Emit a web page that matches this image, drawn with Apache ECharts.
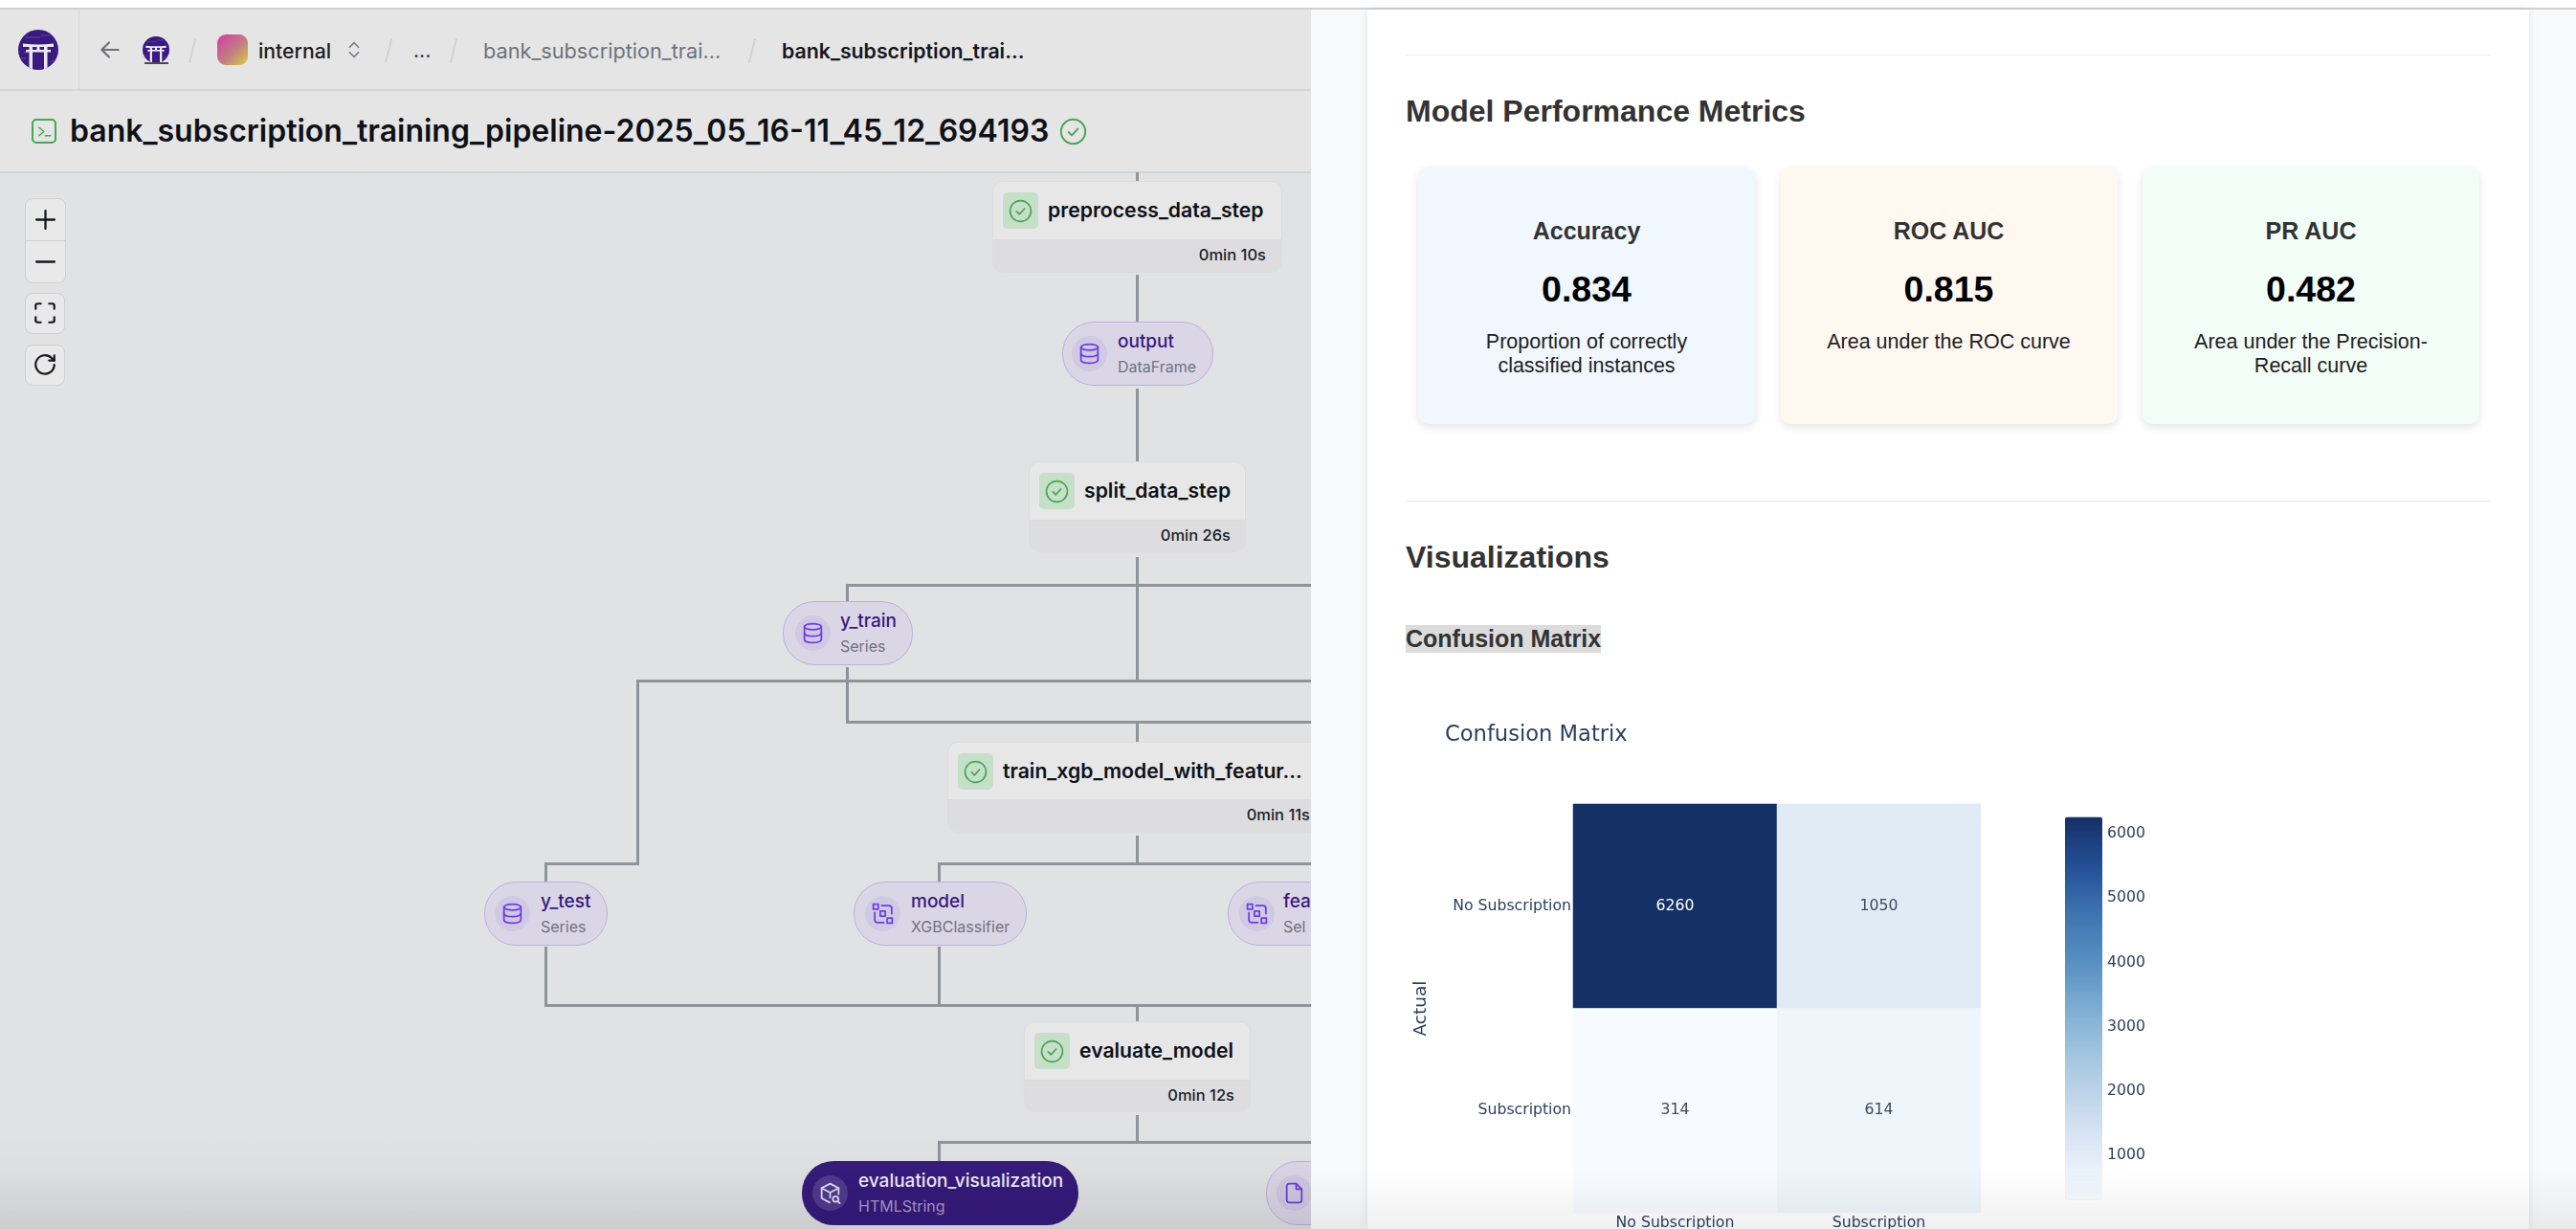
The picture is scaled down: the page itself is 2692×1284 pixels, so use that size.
<!DOCTYPE html>
<html>
<head>
<meta charset="utf-8">
<title>Confusion Matrix</title>
<script src="https://cdn.jsdelivr.net/npm/echarts@6/dist/echarts.min.js"></script>
<style>
    html, body { margin: 0; padding: 0; width: 2692px; height: 1284px; overflow: hidden; background: #fff; }
    #page { position: absolute; left: 0; top: 0; width: 2692px; height: 1284px; overflow: hidden; font-family: Inter, sans-serif; }
    #dag { position: absolute; left: 0; top: 0; width: 1370px; height: 1284px; overflow: hidden; background: #e1e2e4; }
    #side { position: absolute; left: 1370px; top: 0; width: 1322px; height: 1284px; overflow: hidden; background: #f8f9fa; font-family: "Liberation Sans", Arial, sans-serif; }
    #chart { position: absolute; left: 1429px; top: 730px; width: 1214px; height: 554px; }
    #fade { position: absolute; left: 0; top: 1222px; width: 2692px; height: 62px; pointer-events: none; background: linear-gradient(rgba(0,0,0,0), rgba(0,0,0,0.06)); }
    #fade-left { position: absolute; left: 0; top: 1170px; width: 1370px; height: 114px; pointer-events: none; background: linear-gradient(rgba(0,0,0,0), rgba(0,0,0,0.035)); }
    .box, .txt { position: absolute; box-sizing: border-box; }
    .txt { white-space: nowrap; height: 60px; line-height: 60px; }
    svg { position: absolute; overflow: visible; }
</style>
</head>
<body>
<div id="page">
    <div id="dag"></div>
    <div id="side"></div>
    <div id="chart"></div>
    <div id="fade-left"></div>
    <div id="fade"></div>
</div>
<script>
var actualLabels = ['No Subscription', 'Subscription'];
var predictedLabels = ['No Subscription', 'Subscription'];
var noSubscriptionRow = [6260, 1050];
var subscriptionRow = [314, 614];
var colorbarTicks = [1000, 2000, 3000, 4000, 5000, 6000];
var colorbarColors = ['#f7fbff', '#e1ebf6', '#c5d7eb', '#a3c6de', '#7dadd3', '#568fc0', '#3d74b0', '#234f96', '#153065'];
var metricTitles = ['Accuracy', 'ROC AUC', 'PR AUC'];
var metricValues = ['0.834', '0.815', '0.482'];
var metricNotes = [['Proportion of correctly', 'classified instances'], ['Area under the ROC curve'], ['Area under the Precision-', 'Recall curve']];

var INK = '#2a3f5f';
var PLOT_FONT = '"DejaVu Sans", sans-serif';

/**
 * Add a positioned box.
 * @returns {Element}
 */
function box(parent, x, y, w, h, css) {
    var el = document.createElement('div');
    el.className = 'box';
    el.style.cssText = 'left:' + x + 'px;top:' + y + 'px;width:' + w + 'px;height:' + h + 'px;' + (css || '');
    parent.appendChild(el);
    return el;
}

/**
 * Add one line of text centred on cy.
 * @returns {Element}
 */
function txt(parent, x, cy, text, css, align) {
    var el = document.createElement('div');
    el.className = 'txt';
    var shift = align === 'right' ? 'translateX(-100%)' : align === 'center' ? 'translateX(-50%)' : 'none';
    el.style.cssText = 'left:' + x + 'px;top:' + (cy - 30) + 'px;transform:' + shift + ';' + (css || '');
    el.textContent = text;
    parent.appendChild(el);
    return el;
}

/**
 * Add an icon from path markup, on a 24 unit box.
 * @returns {void}
 */
function icon(parent, cx, cy, size, color, width, body) {
    var holder = document.createElement('div');
    holder.innerHTML = '<svg viewBox="0 0 24 24" width="' + size + '" height="' + size + '" fill="none" stroke="' + color +
        '" stroke-width="' + width + '" stroke-linecap="round" stroke-linejoin="round" style="left:' + (cx - size / 2) +
        'px;top:' + (cy - size / 2) + 'px">' + body + '</svg>';
    parent.appendChild(holder.firstChild);
}

/**
 * Add the round torii logo, drawn on a 42 unit box.
 * @returns {void}
 */
function logo(parent, id, x, y, d) {
    var holder = document.createElement('div');
    holder.innerHTML = '<svg viewBox="0 0 42 42" width="' + d + '" height="' + d + '" style="left:' + x + 'px;top:' + y + 'px">' +
        '<clipPath id="' + id + '"><circle cx="21" cy="21" r="21"/></clipPath>' +
        '<g clip-path="url(#' + id + ')"><rect width="42" height="42" fill="#3a1a80"/>' +
        '<path d="M7 8h16M24 6h9M3 30h5M34 33h5M6 24h4" stroke="#6a55a0" stroke-width="0.8"/>' +
        '<path d="M5 14.5q16 2 32 0v3.5H5z" fill="#ebe9f0"/><rect x="8" y="21" width="26" height="2.5" fill="#ebe9f0"/>' +
        '<rect x="19.5" y="18" width="3" height="3" fill="#ebe9f0"/>' +
        '<rect x="11.5" y="18" width="3.5" height="24" fill="#ebe9f0"/><rect x="27" y="18" width="3.5" height="24" fill="#ebe9f0"/></g></svg>';
    parent.appendChild(holder.firstChild);
}

var CHECK = '<circle cx="12" cy="12" r="10.5"/><path d="M8 12.4l2.8 2.8L16 9.6"/>';
var DB = '<ellipse cx="12" cy="5.5" rx="8.5" ry="3"/><path d="M3.5 5.5v13c0 1.7 3.8 3 8.5 3s8.5-1.3 8.5-3v-13"/><path d="M3.5 12c0 1.7 3.8 3 8.5 3s8.5-1.3 8.5-3"/>';
var MODEL = '<rect x="2.5" y="2.5" width="5" height="5"/><rect x="9.5" y="9.5" width="5" height="5"/><rect x="16.5" y="16.5" width="5" height="5"/><path d="M11 4h7a3 3 0 0 1 3 3v5"/><path d="M4 11v7a3 3 0 0 0 3 3h6"/>';
var CUBE = '<path d="M12 2.5l8.5 4.5v6M12 2.5L3.5 7v10l8 4.5"/><path d="M3.5 7l8.5 4.5 8.5-4.5M12 11.5v5"/><circle cx="17.5" cy="18" r="2.8"/><path d="M19.6 20.1l2 2"/>';
var FILE = '<path d="M14 2.5H7a2.5 2.5 0 0 0-2.5 2.5v14A2.5 2.5 0 0 0 7 21.5h10a2.5 2.5 0 0 0 2.5-2.5V8z"/><path d="M14 2.5V8h5.5"/>';

/**
 * Draw a pipeline step card.
 * @returns {void}
 */
function stepCard(root, x, y, w, h, split, name, time, nameRight) {
    var card = box(root, x, y, w, h, 'background:#e7e7e8;border:1px solid #dbdcde;border-radius:11px;overflow:hidden;');
    box(card, 0, split - y, w, h - (split - y), 'background:#dddde0;border-top:1px solid #d9dadc;');
    box(root, x + 11, y + 12, 37, 38, 'background:#c6dfc9;border-radius:5px;');
    icon(root, x + 29.5, y + 31, 25, '#45a84f', 1.6, CHECK);
    txt(root, x + 58, y + 30, name, 'font-size:21.2px;font-weight:600;color:#0f1117;');
    txt(root, nameRight, split + (h - (split - y)) / 2 - 1, time, 'font-size:16.5px;font-weight:500;color:#1b1d24;', 'right');
}

/**
 * Draw an artifact pill.
 * @returns {void}
 */
function artifact(root, x, y, w, iconCx, textX, name, kind, glyph, dark) {
    box(root, x, y, w, 67, dark ? 'background:#361b7c;border-radius:33px;' : 'background:#dbd6e6;border:1px solid #bbb0e0;border-radius:33px;');
    box(root, iconCx - 18, y + 15, 37, 37, 'border-radius:50%;background:' + (dark ? '#523a8f' : '#d0c9e3') + ';');
    icon(root, iconCx + 0.5, y + 33.5, 25, dark ? '#e4e0f0' : '#6b3fe0', 1.7, glyph);
    if (name) txt(root, textX, y + 21, name, 'font-size:19px;font-weight:500;color:' + (dark ? '#efecf6' : '#38197f') + ';');
    if (kind) txt(root, textX, y + 47, kind, 'font-size:16px;color:' + (dark ? '#a79ac9' : '#6f7280') + ';');
}

/**
 * Draw the pipeline view on the left.
 * @returns {void}
 */
function buildDag() {
    var root = document.getElementById('dag');
    box(root, 0, 0, 1370, 180, 'background:#e5e5e6;');
    box(root, 0, 0, 1370, 9, 'background:#fff;');
    box(root, 0, 8, 1370, 2, 'background:#cfd0d1;');
    box(root, 0, 93, 1370, 2, 'background:#d5d6d8;');
    box(root, 0, 179, 1370, 2, 'background:#d2d3d5;');
    box(root, 82, 10, 1, 84, 'background:#d5d6d8;');

    logo(root, 'logo-big', 19, 31, 42);
    icon(root, 115, 52, 26, '#6b7079', 2, '<path d="M20 12H4M11 5l-7 7 7 7"/>');
    logo(root, 'logo-small', 149, 38, 28);
    box(root, 151, 65, 25, 2, 'background:#4a4a52;');
    box(root, 227, 36, 32, 32, 'border-radius:9px;background:linear-gradient(135deg,#d63aa8,#c08080 55%,#d8d040);');
    txt(root, 270, 53, 'internal', 'font-size:21.2px;font-weight:500;color:#1a1c22;');
    icon(root, 370, 52, 22, '#7b8089', 1.8, '<path d="M7 9l5-5 5 5M7 15l5 5 5-5"/>');
    txt(root, 432, 53, '...', 'font-size:20px;font-weight:500;color:#30323a;');
    txt(root, 505, 53, 'bank_subscription_trai...', 'font-size:21.7px;color:#6d727b;');
    txt(root, 817, 53, 'bank_subscription_trai...', 'font-size:21.3px;font-weight:600;color:#15171d;');
    [200, 405, 473, 785].forEach(function (sx) {
        box(root, sx, 40, 2, 26, 'background:#cfd1d4;transform:rotate(14deg);');
    });

    box(root, 33, 124, 26, 26, 'border:2px solid #45a84f;border-radius:5px;');
    icon(root, 46, 137, 17, '#45a84f', 2.2, '<path d="M4 6l7 6-7 6M13 18h8"/>');
    txt(root, 73, 137, 'bank_subscription_training_pipeline-2025_05_16-11_45_12_694193', 'font-size:32px;font-weight:600;color:#0f1117;');
    icon(root, 1121, 137, 29, '#45a84f', 1.6, CHECK);

    var tool = 'background:#e9e9ea;border:1px solid #cfd0d3;border-radius:8px;';
    box(root, 26, 207, 43, 89, tool);
    box(root, 27, 251, 41, 1, 'background:#cfd0d3;');
    box(root, 26, 306, 42, 43, tool);
    box(root, 26, 360, 42, 43, tool);
    icon(root, 47, 229, 25, '#15171d', 2.2, '<path d="M12 3v18M3 12h18"/>');
    icon(root, 47, 273, 25, '#15171d', 2.2, '<path d="M3 12h18"/>');
    icon(root, 46.5, 327, 26, '#15171d', 2, '<path d="M3 8V5a2 2 0 0 1 2-2h3M16 3h3a2 2 0 0 1 2 2v3M21 16v3a2 2 0 0 1-2 2h-3M8 21H5a2 2 0 0 1-2-2v-3"/>');
    icon(root, 46.5, 381, 26, '#15171d', 2, '<path d="M21 12a9 9 0 1 1-2.6-6.4L21 8"/><path d="M21 3v5h-5"/>');

    // pipeline connectors, as x1 y1 x2 y2
    [
        [1188, 181, 1188, 189], [1188, 288, 1188, 336], [1188, 407, 1188, 482], [1188, 583, 1188, 711],
        [885, 611, 1370, 611], [885, 611, 885, 628], [666, 711, 1370, 711], [666, 711, 666, 902], [570, 902, 666, 902], [570, 902, 570, 921],
        [885, 698, 885, 754], [885, 754, 1370, 754], [1188, 754, 1188, 775], [1188, 874, 1188, 902],
        [981, 902, 1370, 902], [981, 902, 981, 921], [570, 990, 570, 1050], [981, 990, 981, 1050],
        [570, 1050, 1370, 1050], [1188, 1050, 1188, 1067], [1188, 1166, 1188, 1193], [981, 1193, 1370, 1193], [981, 1193, 981, 1213]
    ].forEach(function (s) {
        var w = Math.max(s[2] - s[0], 0), h = Math.max(s[3] - s[1], 0);
        box(root, s[0] - 1.5, s[1] - 1.5, w + 3, h + 3, 'background:#8f949b;');
    });

    stepCard(root, 1037, 189, 303, 96, 249, 'preprocess_data_step', '0min 10s', 1323);
    stepCard(root, 1075, 482, 227, 95, 542, 'split_data_step', '0min 26s', 1286);
    stepCard(root, 990, 775, 396, 95, 834, 'train_xgb_model_with_featur...', '0min 11s', 1369);
    stepCard(root, 1070, 1067, 237, 95, 1127, 'evaluate_model', '0min 12s', 1290);

    artifact(root, 1110, 336, 158, 1138, 1168, 'output', 'DataFrame', DB);
    artifact(root, 818, 628, 136, 849, 878, 'y_train', 'Series', DB);
    artifact(root, 506, 921, 129, 535, 565, 'y_test', 'Series', DB);
    artifact(root, 892, 921, 181, 922, 952, 'model', 'XGBClassifier', MODEL);
    artifact(root, 1283, 921, 220, 1313, 1341, 'fea', 'Sel', MODEL);
    artifact(root, 838, 1213, 289, 867, 897, 'evaluation_visualization', 'HTMLString', CUBE, true);
    artifact(root, 1323, 1213, 200, 1352, 1382, '', '', FILE);
}

/**
 * Draw the report panel on the right.
 * @returns {void}
 */
function buildReport() {
    var root = document.getElementById('side');
    box(root, 0, 0, 1322, 9, 'background:#fff;');
    box(root, 0, 8, 1322, 2, 'background:#cfd0d1;');
    box(root, 59, 10, 1214, 1274, 'background:#fff;box-shadow:0 0 9px rgba(0,0,0,0.09);');
    box(root, 99, 57, 1134, 1, 'background:#eeeeef;');
    box(root, 99, 523, 1134, 1, 'background:#e9eaeb;');
    txt(root, 99, 116, 'Model Performance Metrics', 'font-size:32px;font-weight:700;color:#333;');
    txt(root, 99, 582, 'Visualizations', 'font-size:32px;font-weight:700;color:#333;');
    box(root, 99, 653, 204, 29, 'background:#dcdcdc;');
    txt(root, 99, 667, 'Confusion Matrix', 'font-size:25px;font-weight:700;color:#333;');

    var backs = ['#f0f7ff', '#fff8f1', '#f3fdf8'];
    metricTitles.forEach(function (title, i) {
        var x = 112 + i * 378.5;
        box(root, x, 175, 352, 268, 'background:' + backs[i] + ';border-radius:10px;box-shadow:0 3px 10px rgba(0,0,0,0.11);');
        txt(root, x + 176, 241, title, 'font-size:25px;font-weight:700;color:#333;', 'center');
        txt(root, x + 176, 302, metricValues[i], 'font-size:37.5px;font-weight:700;color:#000;', 'center');
        metricNotes[i].forEach(function (line, j) {
            txt(root, x + 176, 357 + j * 25, line, 'font-size:21.5px;color:#222;', 'center');
        });
    });
}

/**
 * Draw the confusion matrix.
 * @returns {void}
 */
function buildChart() {
    var cells = [];
    [noSubscriptionRow, subscriptionRow].forEach(function (row, r) {
        row.forEach(function (v, c) { cells.push([c, r, v]); });
    });
    var values = noSubscriptionRow.concat(subscriptionRow);
    var lo = Math.min.apply(null, values);
    var hi = Math.max.apply(null, values);

    var chart = echarts.init(document.getElementById('chart'));
    chart.setOption({
        animation: false,
        title: {
            text: 'Confusion Matrix',
            left: 76,
            top: 22,
            textStyle: { color: INK, fontFamily: PLOT_FONT, fontWeight: 'normal', fontSize: 22.6 }
        },
        grid: [
            { left: 215, top: 110, width: 426, height: 427, outerBoundsMode: 'none' },
            { left: 729, top: 123.5, width: 39, height: 400, outerBoundsMode: 'none' }
        ],
        xAxis: [
            {
                type: 'category',
                data: predictedLabels,
                axisLine: { show: false },
                axisTick: { show: false },
                axisLabel: { color: INK, fontFamily: PLOT_FONT, fontSize: 15.7, margin: 3 }
            },
            { gridIndex: 1, type: 'value', show: false }
        ],
        yAxis: [
            {
                type: 'category',
                data: actualLabels,
                inverse: true,
                name: 'Actual',
                nameLocation: 'middle',
                nameGap: 149,
                nameTextStyle: { color: INK, fontFamily: PLOT_FONT, fontSize: 18.5 },
                axisLine: { show: false },
                axisTick: { show: false },
                axisLabel: { color: INK, fontFamily: PLOT_FONT, fontSize: 15.7, margin: 2 }
            },
            {
                gridIndex: 1,
                type: 'value',
                position: 'right',
                min: lo,
                max: hi,
                splitLine: { show: false },
                axisLine: { show: false },
                axisTick: { show: false },
                axisLabel: {
                    color: INK,
                    fontFamily: PLOT_FONT,
                    fontSize: 15.7,
                    margin: 5,
                    customValues: colorbarTicks,
                    formatter: function (v) { return String(v); }
                }
            }
        ],
        visualMap: {
            type: 'continuous',
            seriesIndex: 0,
            min: lo,
            max: hi,
            left: 729,
            top: 123.5,
            itemWidth: 39,
            itemHeight: 400,
            calculable: false,
            padding: 0,
            inRange: { color: colorbarColors }
        },
        series: [{
            type: 'heatmap',
            data: cells.map(function (d) {
                // the darkest cell carries a white label
                return d[2] === hi ? { value: d, label: { color: '#fff' } } : { value: d };
            }),
            label: {
                show: true,
                fontFamily: PLOT_FONT,
                fontSize: 15.7,
                formatter: function (p) { return p.value[2]; },
                color: '#3c4a60'
            },
            itemStyle: { borderWidth: 0 },
            emphasis: { disabled: true }
        }]
    });
}

buildDag();
buildReport();
buildChart();
</script>
</body>
</html>
